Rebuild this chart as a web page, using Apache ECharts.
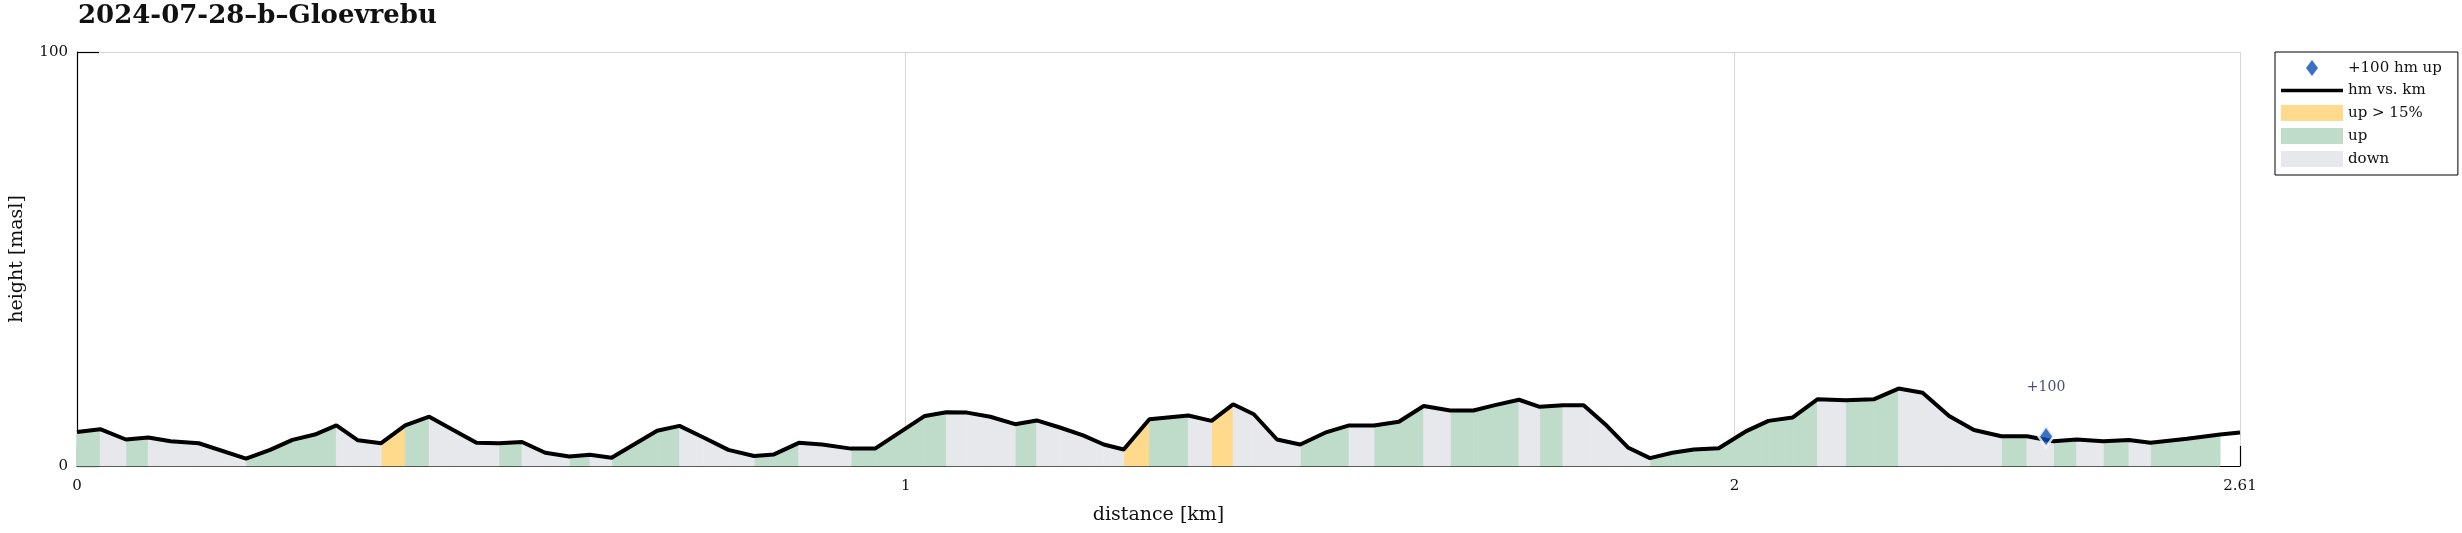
<!DOCTYPE html>
<html>
<head>
<meta charset="utf-8">
<script src="https://cdn.jsdelivr.net/npm/echarts@6/dist/echarts.min.js"></script>
<style>
html,body{margin:0;padding:0;background:#fff;}
#chart{width:2462px;height:533px;}
</style>
</head>
<body>
<div id="chart"></div>
<script>
// distance [km]
const dist = [0.000,0.028,0.059,0.086,0.113,0.147,0.204,0.233,0.260,0.287,0.313,0.339,0.367,0.396,0.425,0.454,0.482,0.509,0.537,0.565,0.594,0.619,0.645,0.700,0.727,0.756,0.786,0.817,0.841,0.871,0.899,0.934,0.963,1.023,1.049,1.074,1.102,1.132,1.158,1.186,1.214,1.239,1.263,1.294,1.341,1.369,1.395,1.420,1.448,1.476,1.508,1.535,1.565,1.595,1.625,1.657,1.685,1.711,1.740,1.765,1.793,1.818,1.846,1.872,1.898,1.925,1.951,1.981,2.015,2.041,2.070,2.100,2.134,2.168,2.198,2.227,2.259,2.289,2.322,2.353,2.385,2.413,2.445,2.476,2.502,2.546,2.586,2.610];
// height [masl]
const height = [8.2,8.9,6.4,6.9,6.0,5.5,1.8,3.9,6.3,7.6,9.8,6.2,5.5,9.8,11.9,8.7,5.6,5.5,5.8,3.2,2.3,2.7,2.0,8.5,9.7,6.9,3.9,2.4,2.8,5.6,5.2,4.2,4.2,12.1,13.0,12.9,11.9,10.1,11.0,9.3,7.4,5.2,4.0,11.3,12.2,10.9,14.9,12.5,6.4,5.2,8.2,9.8,9.8,10.7,14.5,13.4,13.4,14.7,16.0,14.3,14.7,14.7,9.7,4.4,1.9,3.2,4.0,4.3,8.5,10.9,11.7,16.1,15.9,16.1,18.7,17.7,12.1,8.7,7.2,7.2,6.0,6.4,6.0,6.3,5.6,6.6,7.6,8.1];
// segment class between point i and i+1: S = up > 15%, U = up, D = down, N = none
const segClass = ['U','D','U','D','D','D','U','U','U','U','D','D','S','U','D','D','D','U','D','D','U','D','U','U','D','D','D','U','U','D','D','U','U','U','D','D','D','U','D','D','D','D','S','U','D','S','D','D','D','U','U','D','U','U','D','U','U','U','D','U','D','D','D','D','U','U','U','U','U','U','U','D','U','U','D','D','D','D','U','D','U','D','U','D','U','U','N'];
// +100 hm marker
const markerPoint = [[2.376, 7.1]];
const markerLabel = '+100';

const serif = 'DejaVu Serif';
function segData(cls){
  const out = [];
  for (let i = 0; i < segClass.length; i++) {
    if (segClass[i] === cls) out.push([dist[i], height[i], dist[i+1], height[i+1]]);
  }
  return out;
}
function renderSeg(params, api){
  const x0 = api.value(0), h0 = api.value(1), x1 = api.value(2), h1 = api.value(3);
  const pts = [api.coord([x0, 0]), api.coord([x0, h0]), api.coord([x1, h1]), api.coord([x1, 0])];
  const c = api.visual('color');
  return {type: 'polygon', shape: {points: pts}, style: {fill: c, stroke: c, lineWidth: 0.8}};
}
const lineData = dist.map((d, i) => [d, height[i]]);

const chart = echarts.init(document.getElementById('chart'));
chart.setOption({
  animation: false,
  backgroundColor: '#fff',
  title: {
    text: '2024-07-28–b–Gloevrebu', left: 78, top: 3, padding: 0,
    textStyle: {fontFamily: serif, fontWeight: 'bold', fontSize: 26, color: '#111'}
  },
  grid: {left: 77, right: 222, top: 52, bottom: 67},
  legend: {
    orient: 'vertical', left: 2275, top: 52,
    itemWidth: 62, itemHeight: 16, itemGap: 7, itemTextGap: 9,
    padding: [8, 16, 8, 6],
    borderColor: '#000', borderWidth: 1, borderRadius: 0,
    textStyle: {fontFamily: serif, fontSize: 15, color: '#111'},
    data: [
      {name: '+100 hm up', icon: 'path://M6,0 L12,8 L6,16 L0,8 Z', itemStyle: {borderWidth: 0}},
      {name: 'hm vs. km', icon: 'path://M0,0 L62,0 L62,3.4 L0,3.4 Z'},
      {name: 'up > 15%', icon: 'rect'},
      {name: 'up', icon: 'rect'},
      {name: 'down', icon: 'rect'}
    ]
  },
  xAxis: {
    type: 'value', min: 0, max: 2.61, interval: 1,
    name: 'distance [km]', nameLocation: 'middle', nameGap: 40,
    nameTextStyle: {fontFamily: serif, fontSize: 19, color: '#111'},
    axisLine: {lineStyle: {color: '#000', width: 1.2}},
    axisTick: {inside: true, length: 20, lineStyle: {color: '#000', width: 1.2}},
    axisLabel: {fontFamily: serif, fontSize: 15, color: '#111', margin: 13,
      formatter: v => String(Math.round(v * 100) / 100)},
    splitLine: {show: true, lineStyle: {color: '#d6d6d6', width: 1}}
  },
  yAxis: {
    type: 'value', min: 0, max: 100, interval: 100,
    name: 'height [masl]', nameLocation: 'middle', nameGap: 50,
    nameTextStyle: {fontFamily: serif, fontSize: 19, color: '#111'},
    axisLine: {show: true, lineStyle: {color: '#000', width: 1.2}},
    axisTick: {show: true, inside: true, length: 22, lineStyle: {color: '#000', width: 1.2}},
    axisLabel: {fontFamily: serif, fontSize: 15, color: '#111', margin: 9},
    splitLine: {show: true, lineStyle: {color: '#d6d6d6', width: 1}}
  },
  series: [
    {name: 'up > 15%', type: 'custom', renderItem: renderSeg, data: segData('S'),
      encode: {x: [0, 2], y: [1, 3]}, itemStyle: {color: '#FFDA8C'}, z: 2},
    {name: 'up', type: 'custom', renderItem: renderSeg, data: segData('U'),
      encode: {x: [0, 2], y: [1, 3]}, itemStyle: {color: '#BFDCCB'}, z: 2},
    {name: 'down', type: 'custom', renderItem: renderSeg, data: segData('D'),
      encode: {x: [0, 2], y: [1, 3]}, itemStyle: {color: '#E7E8EC'}, z: 2},
    {name: 'hm vs. km', type: 'line', data: lineData, symbol: 'none',
      lineStyle: {color: '#000', width: 4}, itemStyle: {color: '#000'}, z: 5},
    {name: '+100 hm up', type: 'scatter', data: markerPoint, symbol: 'diamond',
      symbolSize: [15, 21], itemStyle: {color: '#0A4DB4', borderColor: '#fff', borderWidth: 2.5},
      label: {show: true, position: 'top', distance: 30, formatter: markerLabel,
        fontFamily: serif, fontSize: 14, color: '#1b2060'}, z: 8}
  ]
});
</script>
</body>
</html>
